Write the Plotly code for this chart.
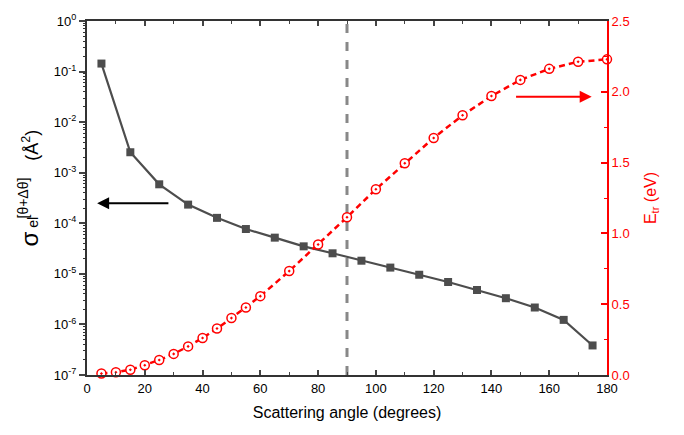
import plotly.graph_objects as go

# Data
angle_sigma = [5, 15, 25, 35, 45, 55, 65, 75, 85, 95, 105, 115, 125, 135, 145, 155, 165, 175]
sigma_el = [0.144, 2.54e-3, 5.9e-4, 2.34e-4, 1.28e-4, 7.7e-5, 5.2e-5, 3.5e-5, 2.55e-5,
            1.82e-5, 1.33e-5, 9.6e-6, 6.9e-6, 4.8e-6, 3.3e-6, 2.16e-6, 1.23e-6, 3.84e-7]

angle_etr = [5, 10, 15, 20, 25, 30, 35, 40, 45, 50, 55, 60, 70, 80, 90, 100, 110, 120,
             130, 140, 150, 160, 170, 180]
e_tr = [0.01, 0.019, 0.037, 0.069, 0.106, 0.149, 0.202, 0.261, 0.328, 0.402, 0.477, 0.557,
        0.734, 0.922, 1.114, 1.312, 1.495, 1.674, 1.834, 1.97, 2.084, 2.162, 2.212, 2.229]

x_ticks = [0, 20, 40, 60, 80, 100, 120, 140, 160, 180]
y_exponents = [-7, -6, -5, -4, -3, -2, -1, 0]
y_ticktext = ["10<sup>%d</sup>" % e for e in y_exponents]
y2_ticks = [0.0, 0.5, 1.0, 1.5, 2.0, 2.5]
marker_angle = 90

FONT = "Liberation Sans, Arial, sans-serif"
GRAY = "#4d4d4d"

y_tickvals = [10.0 ** e for e in y_exponents]
y_minor = [m * 10.0 ** e for e in y_exponents[:-1] for m in range(2, 10)]

fig = go.Figure()

fig.add_trace(go.Scatter(
    x=angle_sigma, y=sigma_el, mode="lines+markers",
    line=dict(color=GRAY, width=2.2),
    marker=dict(symbol="square", size=8, color=GRAY),
    showlegend=False,
))

fig.add_trace(go.Scatter(
    x=angle_etr, y=e_tr, mode="lines+markers", yaxis="y2",
    line=dict(color="red", width=2.5, dash="6px,4px"),
    marker=dict(symbol="circle-dot", size=9, color="white", line=dict(color="red", width=1.5)),
    showlegend=False, cliponaxis=False,
))

# invisible trace to activate minor-tick axis
fig.add_trace(go.Scatter(x=[None], y=[None], yaxis="y3", showlegend=False, hoverinfo="skip"))

fig.add_shape(type="line", xref="x", yref="paper", x0=marker_angle, x1=marker_angle, y0=0, y1=1,
              line=dict(color="#888888", width=3, dash="dash"), layer="below")

# arrows
fig.add_annotation(x=3.5, y=-3.603, ax=28.7, ay=-3.603, xref="x", yref="y", axref="x", ayref="y",
                   showarrow=True, arrowhead=2, arrowsize=1.2, arrowwidth=2, arrowcolor="black", text="")
fig.add_annotation(x=174.7, y=1.965, ax=148, ay=1.965, xref="x", yref="y2", axref="x", ayref="y2",
                   showarrow=True, arrowhead=2, arrowsize=1.2, arrowwidth=2, arrowcolor="red", text="")

# left axis title built from pieces (stacked sub/superscript)
L, R, T, B = 87, 607, 12, 375


def px(xp):
    return (xp - L) / (R - L)


def py(yp):
    return (B - yp) / (B - T)


title_parts = [
    ("σ", 29, 236, 24),
    ("el", 33, 219, 14),
    ("[θ+Δθ]", 23, 194, 14),
    ("(Å<sup>2</sup>)", 31, 140, 18),
]
for txt, cx, cy, fs in title_parts:
    fig.add_annotation(x=px(cx), y=py(cy), xref="paper", yref="paper", text=txt, showarrow=False,
                       textangle=-90, font=dict(size=fs, color="black", family=FONT),
                       xanchor="center", yanchor="middle")

fig.update_layout(
    width=684, height=435,
    margin=dict(l=L, r=684 - R, t=T, b=435 - B),
    plot_bgcolor="white", paper_bgcolor="white",
    font=dict(family=FONT, size=13, color="black"),
    xaxis=dict(
        range=[0, 180], tickvals=x_ticks, ticks="inside", ticklen=5, tickwidth=1.5,
        showline=True, linecolor="#333333", linewidth=2, mirror="ticks", showgrid=False, zeroline=False,
        minor=dict(dtick=10, ticks="inside", ticklen=3, tickwidth=1.2, showgrid=False),
        title=dict(text="Scattering angle (degrees)", font=dict(size=16), standoff=12),
        tickfont=dict(size=13),
    ),
    yaxis=dict(
        type="log", range=[-7, 0], tickvals=y_tickvals, ticktext=y_ticktext,
        ticks="outside", ticklen=6, tickwidth=1.5,
        showline=True, linecolor="#333333", linewidth=2, showgrid=False, zeroline=False,
        tickfont=dict(size=13),
    ),
    yaxis3=dict(
        type="log", range=[-7, 0], overlaying="y", side="left", anchor="x",
        tickvals=y_minor, showticklabels=False, ticks="outside", ticklen=3, tickwidth=1,
        tickcolor="#333333", showline=False, showgrid=False, zeroline=False,
    ),
    yaxis2=dict(
        overlaying="y", side="right", range=[0, 2.5], tickvals=y2_ticks, tickformat=".1f",
        ticks="inside", ticklen=6, tickwidth=1.5, tickcolor="red",
        showline=True, linecolor="red", linewidth=2, showgrid=False, zeroline=False,
        minor=dict(dtick=0.25, ticks="inside", ticklen=3, tickwidth=1.2, tickcolor="red", showgrid=False),
        title=dict(text="E<sub>tr</sub> (eV)", font=dict(size=16, color="red"), standoff=16),
        tickfont=dict(size=13, color="red"),
    ),
)

fig.write_html("out.html")
